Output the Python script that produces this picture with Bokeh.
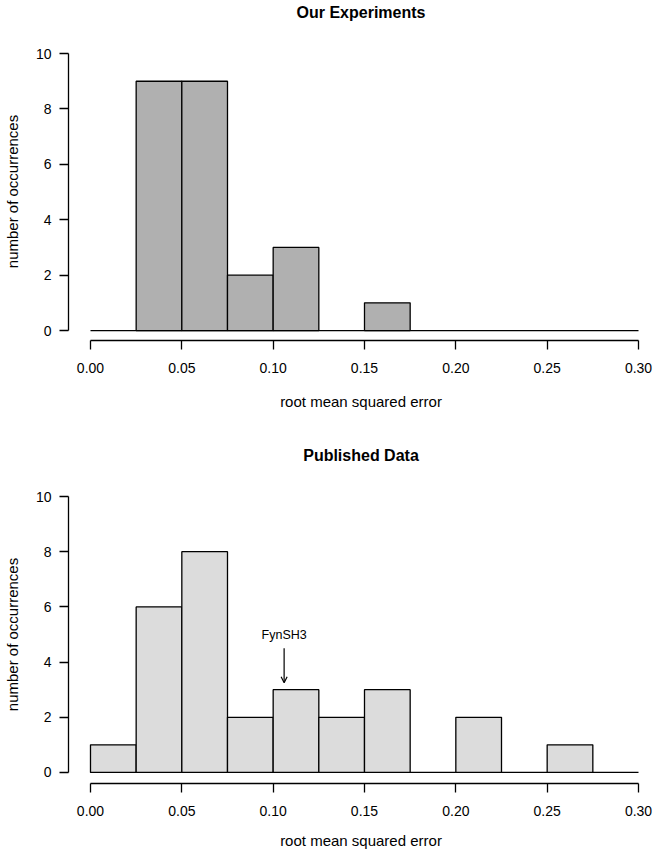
from bokeh.plotting import figure
from bokeh.layouts import column
from bokeh.models import (Range1d, FixedTicker, NumeralTickFormatter, Arrow,
                          OpenHead, LinearAxis)
from bokeh.core.properties import value
from bokeh.embed import file_html
from bokeh.resources import INLINE

# ---- data ----
bin_edges = [0.000, 0.025, 0.050, 0.075, 0.100, 0.125, 0.150,
             0.175, 0.200, 0.225, 0.250, 0.275, 0.300]
our_counts = [0, 9, 9, 2, 3, 0, 1, 0, 0, 0, 0, 0]
published_counts = [1, 6, 8, 2, 3, 2, 3, 0, 2, 0, 1, 0]
x_ticks = [0.00, 0.05, 0.10, 0.15, 0.20, 0.25, 0.30]
y_ticks = [0, 2, 4, 6, 8, 10]
titles = ["Our Experiments", "Published Data"]
x_label = "root mean squared error"
y_label = "number of occurrences"
note_text = "FynSH3"
note_x = 0.106
note_text_y = 5.0
note_arrow_from = 4.5
note_arrow_to = 3.25

FONT = "Liberation Sans"


def make_hist(title, counts, fill, height, border_top, border_bottom,
              label_standoff, y_start):
    p = figure(width=653, height=height, output_backend="svg",
               toolbar_location=None,
               x_range=Range1d(-0.01204, 0.30821), y_range=Range1d(y_start, 10.4),
               min_border_left=68, min_border_right=0,
               min_border_top=border_top, min_border_bottom=border_bottom)
    p.outline_line_color = None
    p.grid.visible = False
    p.background_fill_color = "white"
    p.border_fill_color = "white"

    # baseline spanning the whole histogram range (zero-count bins)
    p.segment(x0=[bin_edges[0]], y0=[0], x1=[bin_edges[-1]], y1=[0],
              line_color="black", line_width=1.3)
    left = [bin_edges[i] for i in range(len(counts)) if counts[i] > 0]
    right = [bin_edges[i + 1] for i in range(len(counts)) if counts[i] > 0]
    top = [c for c in counts if c > 0]
    p.quad(left=left, right=right, bottom=0, top=top,
           fill_color=fill, line_color="black", line_width=1.3)

    xa = p.below[0]
    ya = p.left[0]
    for ax in (xa, ya):
        ax.axis_line_width = 1.3
        ax.axis_line_color = "black"
        ax.major_tick_line_width = 1.3
        ax.major_tick_line_color = "black"
        ax.major_tick_out = 9
        ax.major_tick_in = 0
        ax.minor_tick_line_color = None
        ax.major_label_text_font = FONT
        ax.major_label_text_font_size = "14px"
        ax.major_label_text_color = "black"
        ax.axis_label_text_font = FONT
        ax.axis_label_text_font_size = "15px"
        ax.axis_label_text_font_style = "normal"
        ax.axis_label_text_color = "black"

    xa.ticker = FixedTicker(ticks=x_ticks)
    xa.formatter = NumeralTickFormatter(format="0.00")
    xa.bounds = (x_ticks[0], x_ticks[-1])
    xa.major_label_standoff = 13
    xa.axis_label = x_label
    xa.axis_label_standoff = label_standoff

    ya.ticker = FixedTicker(ticks=y_ticks)
    ya.bounds = (y_ticks[0], y_ticks[-1])
    ya.major_label_standoff = 8
    ya.axis_label = y_label
    ya.axis_label_standoff = 12

    # title drawn as the label of a bare axis above the frame
    title_axis = LinearAxis(ticker=FixedTicker(ticks=[]), axis_label=title)
    title_axis.axis_line_color = None
    title_axis.major_tick_line_color = None
    title_axis.minor_tick_line_color = None
    title_axis.major_tick_out = 0
    title_axis.major_label_text_font_size = "0px"
    title_axis.axis_label_text_font = FONT
    title_axis.axis_label_text_font_size = "16px"
    title_axis.axis_label_text_font_style = "bold"
    title_axis.axis_label_text_color = "black"
    title_axis.axis_label_standoff = 22
    p.add_layout(title_axis, "above")
    return p


p1 = make_hist(titles[0], our_counts, "#b0b0b0", 441, 42, 101, 17, -0.36)
p2 = make_hist(titles[1], published_counts, "#dcdcdc", 412, 44, 70, 13, -0.40)

p2.text(x=[note_x], y=[note_text_y], text=[note_text],
        text_font=value(FONT), text_font_size="12.5px",
        text_align="center", text_baseline="middle", text_color="black")
p2.add_layout(Arrow(end=OpenHead(size=6, line_width=1.2, line_color="black"),
                    x_start=note_x, y_start=note_arrow_from,
                    x_end=note_x, y_end=note_arrow_to,
                    line_color="black", line_width=1.2))

layout = column(p1, p2, spacing=0)
open("out.html", "w").write(file_html(layout, INLINE))
